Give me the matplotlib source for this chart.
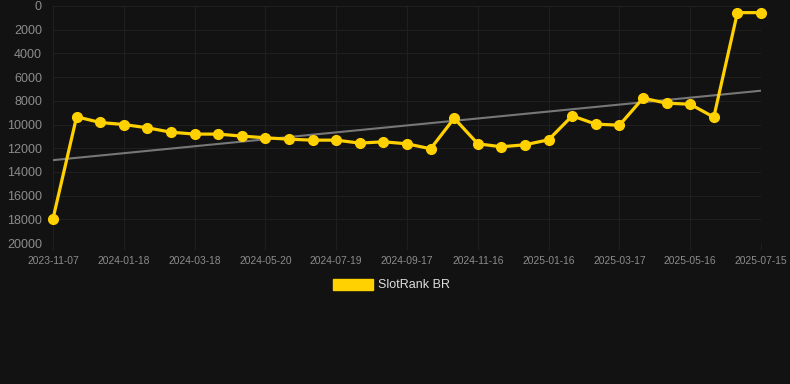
import matplotlib
matplotlib.use("Agg")
import matplotlib.pyplot as plt
import numpy as np
from matplotlib.patches import Rectangle

plt.rcParams['font.family'] = ['Liberation Sans', 'DejaVu Sans']

ranks = [17950, 9350, 9830, 10000, 10280, 10650, 10810, 10810, 10980, 11120,
         11240, 11320, 11320, 11570, 11460, 11630, 12050, 9470, 11630, 11880,
         11710, 11290, 9270, 9970, 10060, 7780, 8200, 8290, 9380, 560, 560]
tick_labels = ["2023-11-07", "2024-01-18", "2024-03-18", "2024-05-20", "2024-07-19",
               "2024-09-17", "2024-11-16", "2025-01-16", "2025-03-17", "2025-05-16",
               "2025-07-15"]
series_name = "SlotRank BR"

W, H = 790, 384
bg = "#121212"
fig = plt.figure(figsize=(W/100, H/100), dpi=100, facecolor=bg)
ax = fig.add_axes([53/W, 1-243/H, (761-53)/W, (243-6)/H], facecolor=bg)

x = np.arange(len(ranks))
y = np.array(ranks, dtype=float)
k, b = np.polyfit(x, y, 1)
ax.plot([x[0], x[-1]], [b + k*x[0], b + k*x[-1]], color="#777777", lw=1.5, zorder=2)
ax.plot(x, y, color="#FFD100", lw=2.3, marker="o", ms=7, mfc="#FFD100", mec="#FFD100",
        zorder=3, clip_on=False)

ax.set_xlim(0, len(ranks)-1)
ax.set_ylim(20000, 0)
ax.set_yticks(np.arange(0, 20001, 2000))
ax.set_yticklabels([str(v) for v in range(0, 20001, 2000)])
ax.set_xticks(np.arange(0, len(ranks), 3))
ax.set_xticklabels(tick_labels)
for s in ax.spines.values():
    s.set_visible(False)
ax.grid(True, color="#1f1f1f", lw=0.8, zorder=0)
ax.tick_params(axis="y", colors="#1f1f1f", labelcolor="#8c8c8c", labelsize=9, length=0, pad=8)
ax.tick_params(axis="x", colors="#1f1f1f", labelcolor="#8c8c8c", labelsize=7.4, length=5, pad=4)

fig.patches.append(Rectangle((333/W, 1-290/H), 40/W, 11/H, transform=fig.transFigure,
                             facecolor="#FFD100", edgecolor="#FFD100"))
fig.text(378/W, 1-285/H, series_name, color="#dddddd", fontsize=9, va="center", ha="left")

fig.savefig("out.png", dpi=100, facecolor=bg)
